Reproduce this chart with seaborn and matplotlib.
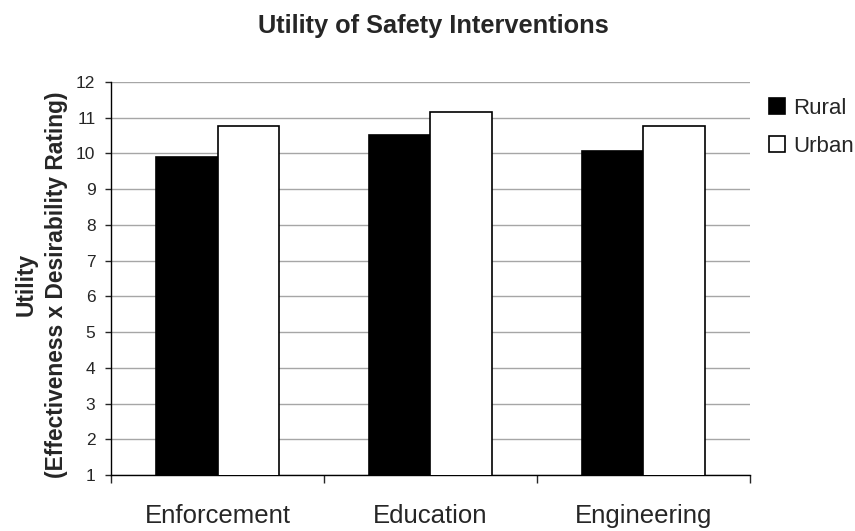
import pandas as pd
import seaborn as sns
import matplotlib.pyplot as plt
from matplotlib.ticker import FixedLocator, NullFormatter

categories = ['Enforcement', 'Education', 'Engineering']
rural = [9.9, 10.52, 10.06]
urban = [10.78, 11.17, 10.78]
groups = ['Rural', 'Urban']

df = pd.DataFrame({
    'Intervention': categories * 2,
    'Group': ['Rural'] * 3 + ['Urban'] * 3,
    'Utility': rural + urban,
})

sns.set_style('white')
plt.rcParams['font.family'] = ['Liberation Sans', 'DejaVu Sans']

fig = plt.figure(figsize=(8.55, 5.31), dpi=100)
ax = fig.add_axes([0.130, 0.1055, 0.747, 0.7401])

sns.barplot(data=df, x='Intervention', y='Utility', hue='Group',
            hue_order=groups, palette=['black', 'white'], edgecolor='black',
            linewidth=1.2, width=0.575, ax=ax, zorder=3)

ax.set_ylim(1, 12)
ax.set_yticks(range(1, 13))
ax.yaxis.grid(True, color='#a6a6a6', linewidth=1, zorder=0)
ax.set_axisbelow(True)
ax.tick_params(axis='y', labelsize=12.5, length=4.3, width=1, direction='out',
               left=True, pad=7)

# Excel-style: ticks between categories, labels centred
ax.set_xlim(-0.5, 2.5)
ax.xaxis.set_major_locator(FixedLocator([-0.5, 0.5, 1.5, 2.5]))
ax.xaxis.set_major_formatter(NullFormatter())
ax.xaxis.set_minor_locator(FixedLocator([0, 1, 2]))
ax.set_xticklabels(categories, minor=True)
ax.tick_params(axis='x', which='major', length=6, width=1, direction='out', bottom=True)
ax.tick_params(axis='x', which='minor', length=0, labelsize=18.5, pad=21)

for s in ['top', 'right']:
    ax.spines[s].set_visible(False)
ax.spines['left'].set_color('black')
ax.spines['bottom'].set_color('black')
ax.spines['left'].set_linewidth(1)
ax.spines['bottom'].set_linewidth(1)

ax.set_xlabel('')
ax.set_ylabel('Utility\n(Effectiveness x Desirability Rating)', fontsize=16.4,
              fontweight='bold', labelpad=7, linespacing=1.4)
ax.yaxis.set_label_coords(-0.068, 0.485)
ax.yaxis.label.set_horizontalalignment('center')

fig.text(0.507, 1 - 33 / 531, 'Utility of Safety Interventions', ha='center',
         va='baseline', fontsize=18.3, fontweight='bold')

ax.legend(loc='upper left', bbox_to_anchor=(769 / 855, 1 - 98 / 531),
          bbox_transform=fig.transFigure, frameon=False, borderaxespad=0,
          borderpad=0, fontsize=16, handlelength=0.72, handleheight=0.72,
          handletextpad=0.36, labelspacing=0.75)

fig.savefig('out.png', dpi=100)
